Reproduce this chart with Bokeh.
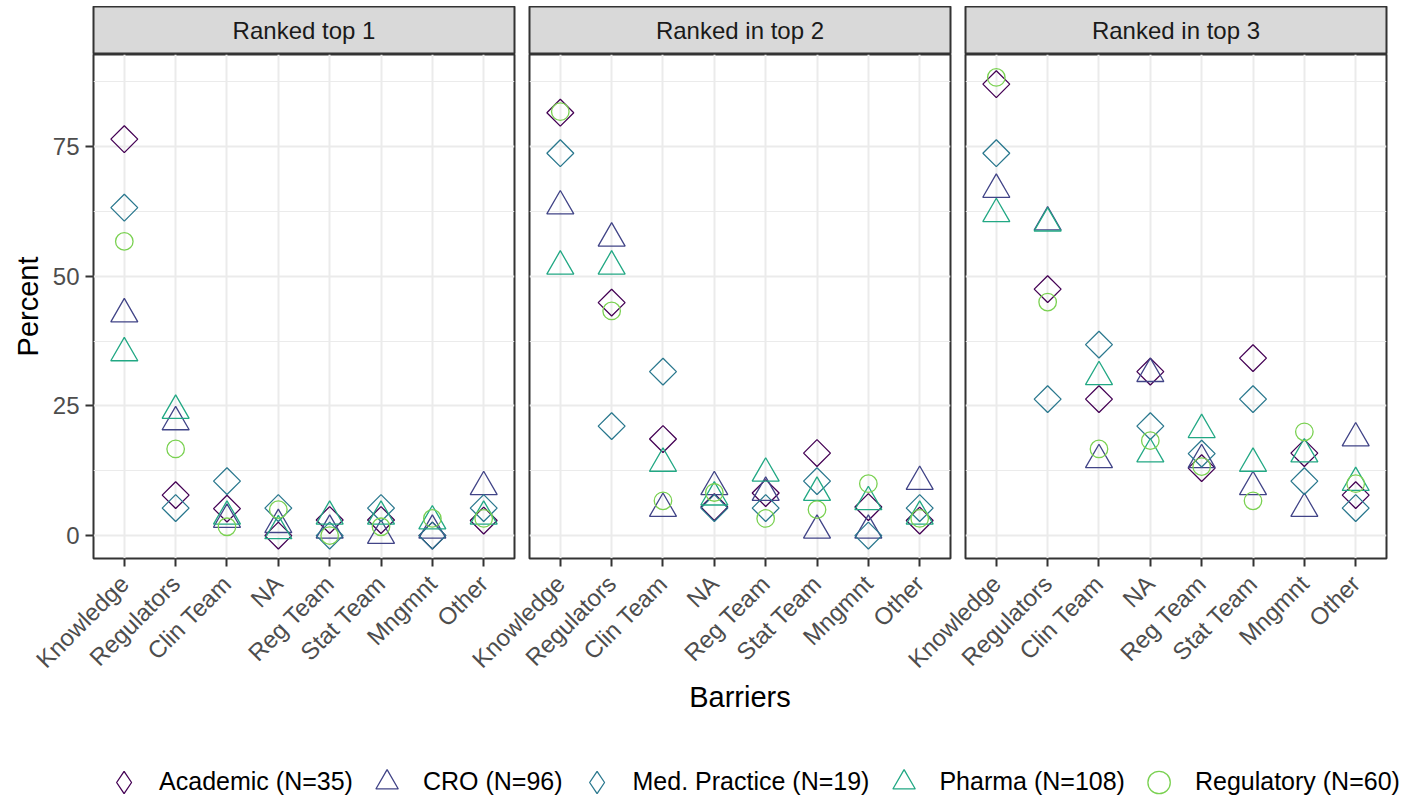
import math
from bokeh.plotting import figure
from bokeh.models import (FactorRange, Range1d, FixedTicker, Label, Legend,
                          LegendItem, ColumnDataSource)
from bokeh.layouts import row, column
from bokeh.embed import file_html
from bokeh.resources import INLINE

# ---------------- data ----------------
barriers = ["Knowledge", "Regulators", "Clin Team", "NA", "Reg Team",
            "Stat Team", "Mngmnt", "Other"]
panel_titles = ["Ranked top 1", "Ranked in top 2", "Ranked in top 3"]
group_labels = ["Academic (N=35)", "CRO (N=96)", "Med. Practice (N=19)",
                "Pharma (N=108)", "Regulatory (N=60)"]

academic_top1 = [76.4, 7.8, 5.2, 0.0, 3.0, 3.0, 0.0, 2.9]
cro_top1 = [42.7, 21.9, 3.1, 2.1, 1.0, 0.0, 1.0, 9.4]
med_top1 = [63.2, 5.3, 10.5, 5.3, 0.0, 5.3, 0.0, 5.3]
pharma_top1 = [35.2, 24.1, 3.7, 0.9, 3.7, 3.7, 2.8, 3.7]
regulatory_top1 = [56.7, 16.7, 1.7, 5.0, 0.0, 1.7, 3.3, 3.3]

academic_top2 = [81.5, 44.9, 18.6, 5.5, 8.2, 15.9, 5.5, 2.9]
cro_top2 = [63.5, 57.3, 5.2, 9.4, 8.3, 1.0, 1.0, 10.4]
med_top2 = [73.7, 21.1, 31.6, 5.3, 5.3, 10.5, 0.0, 5.3]
pharma_top2 = [51.9, 51.9, 13.9, 7.4, 12.0, 8.3, 6.5, 3.7]
regulatory_top2 = [81.7, 43.3, 6.7, 8.3, 3.3, 5.0, 10.0, 3.3]

academic_top3 = [87.0, 47.5, 26.3, 31.6, 13.0, 34.2, 15.9, 7.8]
cro_top3 = [66.7, 60.4, 14.6, 31.2, 14.6, 9.4, 5.2, 18.8]
med_top3 = [73.7, 26.3, 36.8, 21.1, 15.8, 26.3, 10.5, 5.3]
pharma_top3 = [62.0, 60.2, 30.6, 15.7, 20.4, 13.9, 15.7, 10.2]
regulatory_top3 = [88.3, 45.0, 16.7, 18.3, 13.3, 6.7, 20.0, 10.0]

panel_series = [
    [academic_top1, cro_top1, med_top1, pharma_top1, regulatory_top1],
    [academic_top2, cro_top2, med_top2, pharma_top2, regulatory_top2],
    [academic_top3, cro_top3, med_top3, pharma_top3, regulatory_top3],
]
y_ticks = [0, 25, 50, 75]
y_minor = [12.5, 37.5, 62.5, 87.5]

# ---------------- style ----------------
FONT = "Liberation Sans"
group_colors = ["#440154", "#414487", "#2A788E", "#22A884", "#7AD151"]
group_marker = [
    dict(marker="square", size=19, angle=math.pi / 4),
    dict(marker="triangle", size=27, angle=0.0),
    dict(marker="square", size=19, angle=math.pi / 4),
    dict(marker="triangle", size=27, angle=0.0),
    dict(marker="circle", size=17.5, angle=0.0),
]
# legend icons are drawn without rotation, so use the diamond marker there
legend_marker = ["diamond", "triangle", "diamond", "triangle", "circle"]

all_vals = [v for s in panel_series for g in s for v in g]
ymin, ymax = min(all_vals), max(all_vals)
pad = (ymax - ymin) * 0.05

FRAME_W = 421
FRAME_H = 504
STRIP_H = 48
BOTTOM = 165
LEFT1 = 93
LEFT_OTHER = 110
RIGHT = 2
OVERLAP = -97
TOP_OFFSET = 6


def style_axis(ax):
    ax.axis_line_color = None
    ax.major_tick_line_color = "#333333"
    ax.major_tick_line_width = 2
    ax.major_tick_out = 8
    ax.major_tick_in = 0
    ax.minor_tick_out = 0
    ax.minor_tick_in = 0
    ax.major_label_text_font = FONT
    ax.major_label_text_font_size = "24px"
    ax.major_label_text_color = "#4D4D4D"
    ax.axis_label_text_font = FONT
    ax.axis_label_text_font_size = "29px"
    ax.axis_label_text_font_style = "normal"
    ax.axis_label_text_color = "black"


def make_strip(i, left):
    s = figure(width=left + FRAME_W + RIGHT, height=STRIP_H,
               x_range=Range1d(0, 1), y_range=Range1d(0, 1),
               output_backend="svg", toolbar_location=None,
               x_axis_location=None, y_axis_location=None,
               min_border_left=left, min_border_right=RIGHT,
               min_border_top=0, min_border_bottom=0)
    s.grid.visible = False
    s.background_fill_color = "#D9D9D9"
    s.border_fill_color = None
    s.outline_line_color = "#333333"
    s.outline_line_width = 2
    s.add_layout(Label(x=0.5, y=0.5, text=panel_titles[i], text_align="center",
                       text_baseline="middle", text_font=FONT,
                       text_font_size="24px", text_color="#1A1A1A"))
    return s


def make_panel(i, left):
    first = (i == 0)
    p = figure(width=left + FRAME_W + RIGHT, height=FRAME_H + BOTTOM,
               x_range=FactorRange(factors=barriers, range_padding=0.1,
                                   range_padding_units="absolute"),
               y_range=Range1d(ymin - pad, ymax + pad),
               output_backend="svg", toolbar_location=None,
               y_axis_location="left" if first else None,
               min_border_left=left, min_border_right=RIGHT,
               min_border_top=0, min_border_bottom=BOTTOM)
    p.background_fill_color = "white"
    p.border_fill_color = None
    p.outline_line_color = "#333333"
    p.outline_line_width = 2

    p.xgrid.grid_line_color = "#EBEBEB"
    p.xgrid.grid_line_width = 2
    p.ygrid.ticker = FixedTicker(ticks=y_ticks, minor_ticks=y_minor)
    p.ygrid.grid_line_color = "#EBEBEB"
    p.ygrid.grid_line_width = 2
    p.ygrid.minor_grid_line_color = "#EBEBEB"
    p.ygrid.minor_grid_line_width = 1.1

    for ax in p.xaxis:
        style_axis(ax)
        ax.major_label_orientation = math.pi / 4
        ax.major_label_standoff = 13
        if i == 1:
            ax.axis_label = "Barriers"
            ax.axis_label_standoff = -5
    if first:
        for ax in p.yaxis:
            style_axis(ax)
            ax.ticker = FixedTicker(ticks=y_ticks)
            ax.major_label_standoff = 6
            ax.axis_label = "Percent"
            ax.axis_label_standoff = 6

    for vals, color, mk in zip(panel_series[i], group_colors, group_marker):
        src = ColumnDataSource(dict(barrier=barriers, pct=vals))
        p.scatter(x="barrier", y="pct", source=src, marker=mk["marker"],
                  size=mk["size"], angle=mk["angle"], fill_color=None,
                  line_color=color, line_width=1.3)
    return p


cols = []
for i in range(3):
    left = LEFT1 if i == 0 else LEFT_OTHER
    kw = dict(margin=(TOP_OFFSET, 0, 0, 0)) if i == 0 else dict(margin=(TOP_OFFSET, 0, 0, OVERLAP))
    cols.append(column(make_strip(i, left), make_panel(i, left), **kw))

panels_row = row(*cols)

# legend figure
LEG_W = 1412
LEG_H = 797 - (TOP_OFFSET + STRIP_H + FRAME_H + BOTTOM)
lg = figure(width=LEG_W, height=LEG_H, x_range=Range1d(0, 1), y_range=Range1d(0, 1),
            output_backend="svg", toolbar_location=None,
            x_axis_location=None, y_axis_location=None,
            min_border_left=83, min_border_right=0,
            min_border_top=LEG_H - 31, min_border_bottom=0)
lg.grid.visible = False
lg.outline_line_color = None
lg.background_fill_color = None
lg.border_fill_color = None
items = []
for lab, color, lm in zip(group_labels, group_colors, legend_marker):
    src = ColumnDataSource(dict(x=[float("nan")], y=[float("nan")]))
    r = lg.scatter(x="x", y="y", source=src, marker=lm, size=20,
                   fill_color=None, line_color=color, line_width=1.3)
    items.append(LegendItem(label=lab, renderers=[r]))
legend = Legend(items=items, orientation="horizontal", location="center",
                glyph_width=56, glyph_height=56, label_standoff=8, spacing=6,
                padding=0, margin=0, border_line_color=None,
                background_fill_alpha=0, label_text_font=FONT,
                label_text_font_size="25px", label_text_color="black",
                label_text_baseline="middle")
lg.add_layout(legend, "center")

layout = column(panels_row, lg)

open("out.html", "w").write(file_html(layout, INLINE))
